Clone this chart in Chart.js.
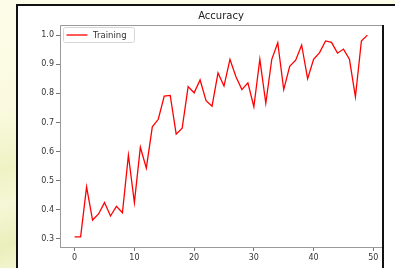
<!DOCTYPE html>
<html>
<head>
<meta charset="utf-8">
<script src="https://cdn.jsdelivr.net/npm/chart.js@4.4.0/dist/chart.umd.min.js"></script>
<style>
  html, body { margin: 0; padding: 0; }
  body {
    width: 395px; height: 268px; overflow: hidden; position: relative;
    background: #fdfce8;
  }
  .deco {
    position: absolute; left: 0; top: 0; width: 20px; height: 268px;
    background: linear-gradient(160deg, #fdfce8 0%, #fbfae0 40%, #eef3c4 62%, #f6f7d6 75%, #e9efbb 90%, #f3f5cf 100%);
  }
  .sheet {
    position: absolute; left: 16px; top: 4px; width: 400px; height: 280px;
    background: #fff; border-left: 2px solid #111; border-top: 2px solid #111;
  }
  #chart { position: absolute; left: 0; top: 0; }
</style>
</head>
<body>
<div class="deco"></div>
<div class="sheet"></div>
<canvas id="chart" width="395" height="268"></canvas>
<script>
// accuracy per epoch
const accuracy = [
  0.307, 0.307, 0.479, 0.365, 0.386, 0.425, 0.379, 0.412, 0.390, 0.588,
  0.425, 0.615, 0.543, 0.685, 0.711, 0.791, 0.793, 0.660, 0.680, 0.823,
  0.802, 0.846, 0.775, 0.756, 0.870, 0.825, 0.917, 0.857, 0.813, 0.836,
  0.754, 0.917, 0.766, 0.917, 0.974, 0.813, 0.893, 0.914, 0.966, 0.850,
  0.917, 0.940, 0.980, 0.975, 0.938, 0.952, 0.917, 0.788, 0.980, 1.000
];
const epochs = accuracy.map((_, i) => i);
const xTicks = [0, 10, 20, 30, 40, 50];
const yTicks = [0.3, 0.4, 0.5, 0.6, 0.7, 0.8, 0.9, 1.0];

const FONT = "'DejaVu Sans', sans-serif";

// matplotlib-like frame round the axes, plus the legend box in the upper left
const framePlugin = {
  id: 'frame',
  afterDraw(chart) {
    const { ctx, chartArea: a } = chart;
    ctx.save();
    ctx.strokeStyle = '#9a9a9a';
    ctx.lineWidth = 1;
    ctx.beginPath();
    ctx.moveTo(a.left + 0.5, a.bottom + 0.5);
    ctx.lineTo(a.left + 0.5, a.top + 0.5);
    ctx.lineTo(a.right, a.top + 0.5);
    ctx.moveTo(a.left, a.bottom + 0.5);
    ctx.lineTo(a.right, a.bottom + 0.5);
    ctx.stroke();
    ctx.strokeStyle = '#111';
    ctx.lineWidth = 2;
    ctx.beginPath();
    ctx.moveTo(a.right + 1, a.top);
    ctx.lineTo(a.right + 1, chart.height);
    ctx.stroke();

    // legend
    const ds = chart.data.datasets[0];
    const lx = a.left + 3.5, ly = a.top + 2.5;
    ctx.fillStyle = 'rgba(255,255,255,0.8)';
    ctx.strokeStyle = '#d6d6d6';
    ctx.lineWidth = 1;
    ctx.beginPath();
    ctx.roundRect(lx, ly, 71, 15, 2);
    ctx.fill();
    ctx.stroke();
    ctx.strokeStyle = ds.borderColor;
    ctx.lineWidth = 1.3;
    ctx.beginPath();
    ctx.moveTo(lx + 3, ly + 7.5);
    ctx.lineTo(lx + 24, ly + 7.5);
    ctx.stroke();
    ctx.fillStyle = '#333';
    ctx.font = "8.5px " + FONT;
    ctx.textBaseline = 'middle';
    ctx.fillText(ds.label, lx + 29.5, ly + 8);
    ctx.restore();
  }
};

new Chart(document.getElementById('chart'), {
  type: 'line',
  data: {
    datasets: [{
      label: 'Training',
      data: epochs.map((e, i) => ({ x: e, y: accuracy[i] })),
      borderColor: '#ff0000',
      backgroundColor: '#ff0000',
      borderWidth: 1.3,
      pointRadius: 0,
      tension: 0,
      fill: false
    }]
  },
  options: {
    responsive: false,
    animation: false,
    layout: { padding: { left: 0, right: 13, top: 10, bottom: 0 } },
    plugins: {
      title: {
        display: true,
        fullSize: false, // centre over the plot, not the canvas
        text: 'Accuracy',
        color: '#222',
        font: { family: FONT, size: 10, weight: 'normal', lineHeight: 1.2 },
        padding: { top: 0, bottom: 3 }
      },
      legend: { display: false },
      tooltip: { enabled: false }
    },
    scales: {
      x: {
        type: 'linear',
        min: -2.45,
        max: 51.45,
        afterBuildTicks: s => { s.ticks = xTicks.map(v => ({ value: v })); },
        afterFit: s => { s.height = 21; },
        border: { display: false },
        grid: { drawOnChartArea: false, tickLength: 4, color: '#777', tickWidth: 1 },
        ticks: { padding: 2, color: '#333', font: { family: FONT, size: 8 }, maxRotation: 0 }
      },
      y: {
        min: 0.2725,
        max: 1.0347,
        afterBuildTicks: s => { s.ticks = yTicks.map(v => ({ value: v })); },
        afterFit: s => { s.width = 60; },
        border: { display: false },
        grid: { drawOnChartArea: false, tickLength: 4, color: '#777', tickWidth: 1 },
        ticks: {
          padding: 2, color: '#333', font: { family: FONT, size: 8 },
          callback: v => v.toFixed(1)
        }
      }
    }
  },
  plugins: [framePlugin]
});
</script>
</body>
</html>
